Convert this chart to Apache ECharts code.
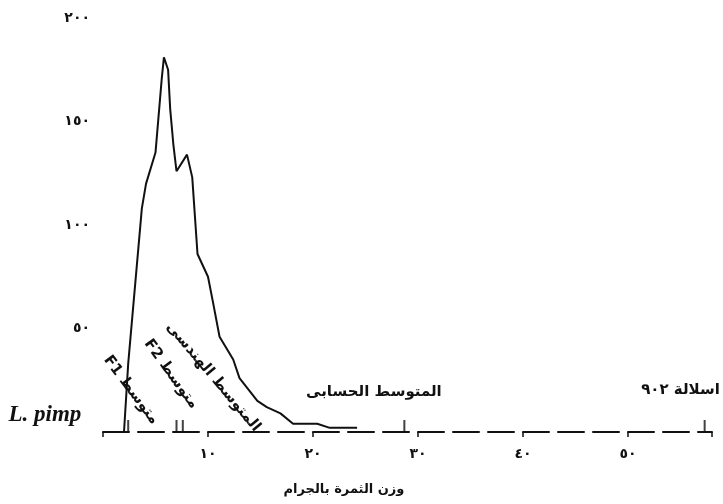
<!DOCTYPE html>
<html>
<head>
<meta charset="utf-8">
<script src="https://cdn.jsdelivr.net/npm/echarts@6/dist/echarts.min.js"></script>
<style>
  html, body { margin: 0; padding: 0; background: #ffffff; }
  #chart { width: 723px; height: 504px; }
</style>
</head>
<body>
<div id="chart"></div>
<script>
// Frequency distribution of fruit weight (grams) for L. pimp
const weights = [2.0, 2.4, 3.7, 4.1, 5.0, 5.6, 5.8, 6.2, 6.4, 6.7, 7.0, 8.0, 8.5, 9.0, 10.0, 10.5, 11.1, 12.4, 13.0, 14.7, 15.6, 16.9, 18.1, 19.7, 20.4, 21.6, 24.2];
const counts  = [0,   33,  108, 120, 135, 171, 181, 175, 156, 139, 126, 134, 123, 86,  75,   62,   46,   35,   26,   15,   12,   9,    4,    4,    4,    2,    2];

// Positions of the means marked on the weight axis
const meanWeights = [2.4, 7.0, 7.6, 28.7, 57.3];

// Axis ticks and their Arabic-Indic labels
const xTicks = [10, 20, 30, 40, 50];
const xTickLabels = ['١٠', '٢٠', '٣٠', '٤٠', '٥٠'];
const yTicks = [50, 100, 150, 200];
const yTickLabels = ['٥٠', '١٠٠', '١٥٠', '٢٠٠'];

// Annotation texts and where they sit (in data units)
const notes = [
  { text: 'F1 متوسط',        at: [2.67, 20.3],  rot: -53, size: 15 },
  { text: 'F2 متوسط',        at: [6.48, 28.0],  rot: -54, size: 15 },
  { text: 'المتوسط الهندسى', at: [10.5, 26.6],  rot: -50, size: 15 },
  { text: 'المتوسط الحسابى', at: [25.8, 19.3],  rot: 0,   size: 15 },
  { text: 'اسلالة ٩٠٢',      at: [55.0, 20.3],  rot: 0,   size: 15 },
  { text: 'وزن الثمرة بالجرام', at: [22.95, -28.0], rot: 0, size: 13 }
];
const speciesLabel = { text: 'L. pimp', at: [-9.0, 8.2] };

const arabicFont = "'DejaVu Sans', sans-serif";
const ink = '#111111';

const chart = echarts.init(document.getElementById('chart'), null, { renderer: 'canvas' });

function pick(ticks, labels) {
  return function (v) {
    const i = ticks.indexOf(Math.round(v * 1000) / 1000);
    return i >= 0 ? labels[i] : '';
  };
}

chart.setOption({
  animation: false,
  backgroundColor: '#ffffff',
  grid: { left: 103, right: 11, top: 18, bottom: 72 },
  xAxis: {
    type: 'value',
    min: 0,
    max: 58,
    interval: 10,
    axisLine: { show: true, lineStyle: { color: ink, width: 2, type: [26, 9] } },
    axisTick: { show: true, length: 5, lineStyle: { color: ink, width: 1.5 } },
    splitLine: { show: false },
    axisLabel: {
      margin: 15,
      fontFamily: arabicFont,
      fontSize: 14,
      fontWeight: 'bold',
      color: ink,
      formatter: pick(xTicks, xTickLabels)
    }
  },
  yAxis: {
    type: 'value',
    min: 0,
    max: 200,
    interval: 50,
    axisLine: { show: false },
    axisTick: { show: false },
    splitLine: { show: false },
    axisLabel: {
      margin: 13,
      fontFamily: arabicFont,
      fontSize: 14,
      fontWeight: 'bold',
      color: ink,
      formatter: pick(yTicks, yTickLabels)
    }
  },
  series: [
    {
      type: 'line',
      data: weights.map((w, i) => [w, counts[i]]),
      showSymbol: false,
      symbol: 'none',
      lineStyle: { color: ink, width: 2 },
      z: 3
    },
    {
      type: 'scatter',
      data: meanWeights.map(w => [w, 0]),
      symbol: 'rect',
      symbolSize: [2, 12],
      symbolOffset: [0, -6],
      itemStyle: { color: ink },
      z: 4
    }
  ]
});

// Place the annotations from data coordinates
const graphics = notes.map(n => {
  const p = chart.convertToPixel({ gridIndex: 0 }, n.at);
  return {
    type: 'text',
    x: p[0],
    y: p[1],
    rotation: n.rot * Math.PI / 180,
    style: {
      text: n.text,
      fill: ink,
      font: 'bold ' + n.size + 'px ' + arabicFont,
      align: 'center',
      verticalAlign: 'middle'
    },
    z: 10
  };
});
const sp = chart.convertToPixel({ gridIndex: 0 }, speciesLabel.at);
graphics.push({
  type: 'text',
  x: sp[0],
  y: sp[1],
  style: {
    text: speciesLabel.text,
    fill: ink,
    font: 'italic bold 23px "Liberation Serif", serif',
    align: 'left',
    verticalAlign: 'middle'
  },
  z: 10
});
chart.setOption({ graphic: graphics });
</script>
</body>
</html>
